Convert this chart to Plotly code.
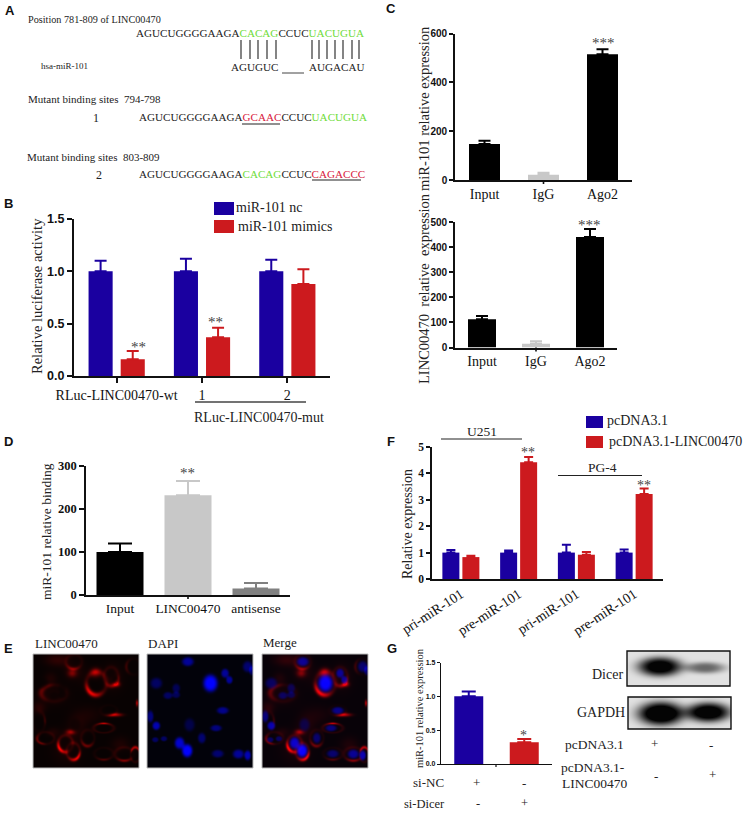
import numpy as np
import plotly.graph_objects as go

W, H = 747, 813
SERIF = "Liberation Serif"
SANS = "Liberation Sans"
BLUE = "#1a00a0"
RED = "#cc1a1e"
GREY = "#c8c8c8"
GREEN = "#6fdc3a"
PINK = "#d8203c"

# Panel B
b_groups = ["RLuc-LINC00470-wt", "1", "2"]
b_nc = [1.0, 1.0, 1.0]
b_nc_err = [0.10, 0.12, 0.11]
b_mimics = [0.16, 0.37, 0.88]
b_mimics_err = [0.08, 0.09, 0.14]
# Panel C
c_cats = ["Input", "IgG", "Ago2"]
c1_vals = [147, 22, 515]
c1_err = [14, 8, 20]
c2_vals = [113, 15, 440]
c2_err = [12, 10, 32]
# Panel D
d_cats = ["Input", "LINC00470", "antisense"]
d_vals = [100, 232, 15]
d_err = [20, 33, 13]
# Panel F
f_cats = ["pri-miR-101", "pre-miR-101", "pri-miR-101 ", "pre-miR-101 "]
f_pc = [1.0, 1.0, 1.0, 1.0]
f_pc_err = [0.10, 0.08, 0.30, 0.12]
f_linc = [0.83, 4.42, 0.92, 3.22]
f_linc_err = [0.05, 0.20, 0.10, 0.21]
# Panel G
g_cats = ["si-NC", "si-Dicer"]
g_vals = [1.0, 0.32]
g_err = [0.07, 0.05]

# Illustrated micrograph content (centre x, centre y, radius x, radius y, strength),
# measured on a 319 x 343 view of each micrograph.
NUCLEI = [(123,23,18,14,.6),(303,38,15,17,.45),(235,58,12,14,.6),(248,78,10,12,.6),(191,88,22,26,1.),
          (28,88,18,17,.4),(88,103,12,14,.35),(63,125,14,11,.4),(88,123,12,10,.35),(228,170,18,11,.55),
          (10,188,10,18,.5),(28,216,12,13,.7),(128,213,16,20,.3),(208,223,17,10,.5),(165,253,12,16,.45),
          (25,258,10,8,.4),(51,255,10,8,.4),(98,268,15,18,.8),(121,291,16,20,1.),(213,300,18,12,.45),
          (275,301,17,14,.6),(303,305,10,15,.7),(315,50,8,14,.4)]
# ring: centre, radii, strength, angle (degrees, image coords) of its brightest side
RINGS = [(123,23,24,22,.4,100),(191,88,30,35,.95,120),(235,68,22,28,.55,60),(303,38,22,24,.25,180),
         (63,118,38,25,.4,200),(228,170,25,16,.2,60),(18,203,18,30,.25,0),(38,253,25,18,.5,150),
         (98,270,22,25,.9,140),(121,293,20,25,.9,60),(165,253,20,24,.45,100),(213,223,30,14,.75,270),
         (213,300,28,18,.35,90),(275,301,28,20,.55,90),(308,303,14,22,.7,270)]
PATCHES = [(118,58,14,12,.45),(188,58,15,15,.65),(253,91,10,8,.6),(248,183,22,6,.7),(113,235,14,8,.6),
           (313,148,4,10,.7),(73,18,40,20,.22),(173,183,40,30,.1),(133,213,30,40,.13),(18,163,20,20,.18),
           (53,73,20,20,.13),(263,273,30,25,.14),(60,235,20,14,.12),(150,70,20,40,.05),(120,45,30,35,.12),
           (240,70,35,45,.12),(60,125,50,35,.1),(100,285,45,50,.12)]


def ellipse_dist(xx, yy, cx, cy, rx, ry):
    return np.sqrt(((xx - cx) / rx) ** 2 + ((yy - cy) / ry) ** 2)


def micrographs(w, h):
    yy, xx = np.mgrid[0:h, 0:w]
    xx = (xx + .5) * 319 / w
    yy = (yy + .5) * 343 / h
    red = np.zeros((h, w))
    blue = np.zeros((h, w))
    mask = np.zeros((h, w))
    for c in PATCHES:
        red += c[4] * np.exp(-ellipse_dist(xx, yy, *c[:4]) ** 2)
    for c in RINGS:
        d = ellipse_dist(xx, yy, *c[:4])
        ang = np.arctan2(yy - c[1], xx - c[0]) - np.radians(c[5])
        lobes = .22 + .78 * np.cos(ang) ** 2 * (np.cos(ang) > 0)
        red += c[4] * lobes * np.exp(-((d - 1) / .25) ** 2)
    for c in NUCLEI:
        d = ellipse_dist(xx, yy, *c[:4])
        blue += c[4] * np.exp(-d ** 4)
        mask += np.exp(-d ** 4)
    return np.clip(red, 0, 1) ** 1.25, np.clip(blue, 0, 1) ** 1.15, np.clip(mask, 0, 1)


def rgb(r, g, b):
    return np.clip(np.dstack([r, g, b]), 0, 255).astype(np.uint8).tolist()


def blot(w, h, bands):
    yy, xx = np.mgrid[0:h, 0:w]
    fx = (xx + .5) / w
    fy = (yy + .5) / h
    dark = np.zeros((h, w))
    for cx, cy, rx, ry, a in bands:
        dark += a * np.exp(-(((fx - cx) / rx) ** 2 + ((fy - cy) / ry) ** 2) ** 1.5)
    dark = np.clip(dark, 0, 1)
    v = 222 * (1 - dark) + 4
    return rgb(v, v, v)


fig = go.Figure()
layout = {}
shapes = []
annotations = []
axis_no = 0


def fx(x):
    return x / W


def fy(y):
    return 1 - y / H


def txt(x, y, s, size=13, anchor="left", font=SERIF, color="#222", bold=False, angle=0):
    if bold:
        s = f"<b>{s}</b>"
    annotations.append(dict(x=fx(x), y=fy(y), xref="paper", yref="paper", text=s, showarrow=False,
                            xanchor=anchor, yanchor="middle", textangle=angle, borderpad=0, borderwidth=0,
                            font=dict(family=font, size=size, color=color)))


def line(x0, y0, x1, y1, color="#222", width=1.3):
    shapes.append(dict(type="line", xref="paper", yref="paper", x0=fx(x0), x1=fx(x1), y0=fy(y0), y1=fy(y1),
                       line=dict(color=color, width=width)))


def box(x0, y0, x1, y1, color):
    shapes.append(dict(type="rect", xref="paper", yref="paper", x0=fx(x0), x1=fx(x1), y0=fy(y0), y1=fy(y1),
                       line=dict(width=0), fillcolor=color))


def axes(x0, x1, ytop, ybot, cats, yrange, ytickvals, yfmt, yfont, xfont, lw=2, ticks=True, angle=0, ticklen=5):
    global axis_no
    axis_no += 1
    n = axis_no
    s = "" if n == 1 else str(n)
    layout[f"xaxis{s}"] = dict(domain=[fx(x0), fx(x1)], anchor=f"y{s}", type="category", categoryorder="array",
                               categoryarray=cats, tickvals=cats, ticktext=[c.strip() for c in cats],
                               range=[-.5, len(cats) - .5], showgrid=False, zeroline=False, showline=True,
                               linecolor="#111", linewidth=lw, ticks="outside" if ticks else "",
                               ticklen=ticklen, tickwidth=lw, tickcolor="#111", tickangle=angle, tickfont=xfont,
                               automargin=False)
    layout[f"yaxis{s}"] = dict(domain=[fy(ybot), fy(ytop)], anchor=f"x{s}", range=yrange, tickvals=ytickvals,
                               tickformat=yfmt, showgrid=False, zeroline=False, showline=True, linecolor="#111",
                               linewidth=lw, ticks="outside", ticklen=ticklen, tickwidth=lw, tickcolor="#111",
                               tickfont=yfont, automargin=False)
    return f"x{s}", f"y{s}"


def bars(ax, cats, vals, errs, color, width, offset=None, cap=6, thick=2, name=None):
    fig.add_trace(go.Bar(x=cats, y=vals, xaxis=ax[0], yaxis=ax[1], width=width, offset=offset, name=name,
                         showlegend=False, marker=dict(color=color, line=dict(width=0)),
                         error_y=dict(type="data", array=errs, arrayminus=[0] * len(errs), symmetric=False,
                                      color=color, thickness=thick, width=cap)))


def image(x0, x1, y0, y1, z, border="#bbb", lw=1):
    global axis_no
    axis_no += 1
    s = str(axis_no)
    w, h = int(x1 - x0), int(y1 - y0)
    layout[f"xaxis{s}"] = dict(domain=[fx(x0), fx(x1)], anchor=f"y{s}", range=[-.5, w - .5], visible=False, automargin=False)
    layout[f"yaxis{s}"] = dict(domain=[fy(y1), fy(y0)], anchor=f"x{s}", range=[h - .5, -.5], visible=False, automargin=False)
    fig.add_trace(go.Image(z=z, xaxis=f"x{s}", yaxis=f"y{s}", hoverinfo="skip"))
    shapes.append(dict(type="rect", xref="paper", yref="paper", x0=fx(x0), x1=fx(x1), y0=fy(y0), y1=fy(y1),
                       line=dict(color=border, width=lw)))


def f(family, size, bold=False):
    return dict(family=family, size=size, color="#111", weight=700 if bold else 400)


# ---------- Panel letters
for lab, x, y in [("A", 10, 10), ("B", 8, 204), ("C", 391, 9), ("D", 8, 442), ("E", 8, 648), ("F", 391, 441), ("G", 392, 648)]:
    txt(x, y, lab, 13, "center", SANS, "#111", True)

# ---------- Panel A
S = 11.1
txt(28, 19, "Position 781-809 of LINC00470", 10.2)
G = lambda t: f'<span style="color:{GREEN}">{t}</span>'
R = lambda t: f'<span style="color:{PINK}">{t}</span>'
txt(136, 33, "AGUCUGGGGAAGA" + G("CACAG") + "CCUC" + G("UACUGUA"), S)
for x in [241, 250, 258, 267, 276, 312, 319, 327, 335, 343, 352, 359]:
    line(x, 40, x, 59, "#333", 1.2)
txt(41, 66, "hsa-miR-101", 9)
txt(231, 67, "AGUGUC", S)
line(282, 73, 304, 73, "#444", 1)
txt(309, 67, "AUGACAU", S)
txt(28, 99, "Mutant binding sites&nbsp;&nbsp;794-798", 11)
txt(96, 118, "1", 12, "center")
txt(139, 117, "AGUCUGGGGAAGA" + R("GCAAC") + "CCUC" + G("UACUGUA"), S)
line(242, 124, 280, 124, "#222", 1.2)
txt(27, 157, "Mutant binding sites&nbsp;&nbsp;803-809", 11)
txt(99, 175, "2", 12, "center")
txt(139, 174, "AGUCUGGGGAAGA" + G("CACAG") + "CCUC" + R("CAGACCC"), S)
line(312, 180, 361, 180, "#222", 1.2)

# ---------- Panel B
ax = axes(74, 330, 219, 376, b_groups, [0, 1.5], [0, .5, 1, 1.5], ".1f", f(SANS, 12.5, True), f(SERIF, 14))
bars(ax, b_groups, b_nc, b_nc_err, BLUE, 24 / 85, -28 / 85, name="miR-101 nc")
bars(ax, b_groups, b_mimics, b_mimics_err, RED, 24 / 85, 4 / 85, name="miR-101 mimics")
box(214, 202, 234, 215, BLUE)
box(214, 220, 234, 233, RED)
txt(236, 207, "miR-101 nc", 14)
txt(238, 226, "miR-101 mimics", 14)
txt(37, 296, "Relative luciferase activity", 14.5, "center", angle=-90)
txt(138, 347, "**", 15, "center", color="#444")
txt(215, 322, "**", 15, "center", color="#444")
line(195, 402, 306, 402, "#444", 1.4)
txt(259, 417, "RLuc-LINC00470-mut", 14, "center")

# ---------- Panel C
for (x0, x1, y0, y1, vals, errs, top, tv, cap, bw) in [
    (455, 632, 33.5, 180, c1_vals, c1_err, 600, [0, 200, 400, 600], 6, 31 / 59),
    (455, 617, 222, 347.5, c2_vals, c2_err, 500, [0, 100, 200, 300, 400, 500], 6, 28 / 54),
]:
    ax = axes(x0, x1, y0, y1, c_cats, [0, top], tv, "d", f(SANS, 10, True), f(SERIF, 14), lw=1.6, ticks=False, ticklen=4)
    for c, v, e, col in zip(c_cats, vals, errs, ["#000", GREY, "#000"]):
        bars(ax, [c], [v], [e], col, bw, cap=cap)
    line((x0 + x1) / 2, y1, (x0 + x1) / 2, y1 + 4, "#111", 1.6)
txt(424, 108, "miR-101 relative expression", 14.5, "center", angle=-90)
txt(424, 288, "LINC00470&nbsp;&nbsp;relative&nbsp;&nbsp;expression", 14.5, "center", angle=-90)
txt(603, 43, "***", 15, "center", color="#444")
txt(589, 225, "***", 15, "center", color="#444")

# ---------- Panel D
ax = axes(86, 290, 466, 595, d_cats, [0, 300], [0, 100, 200, 300], "d", f(SERIF, 12.5, True), f(SERIF, 13.5), lw=1.6, ticks=False)
for c, v, e, col in zip(d_cats, d_vals, d_err, ["#000", GREY, "#808080"]):
    bars(ax, [c], [v], [e], col, 47 / 68, cap=12)
line(188, 595, 188, 599, "#111", 1.6)
txt(46, 532, "miR-101 relative binding", 13.5, "center", angle=-90)
txt(187, 473, "**", 15, "center", color="#444")

# ---------- Panel E
w, h = 106, 114
red_c, blue_c, mask_c = micrographs(w, h)
zero = np.zeros((h, w))
image(33, 139, 654, 768, rgb(red_c * (1 - .55 * mask_c) * 245 + 8, zero + 2, zero + 2))
image(147, 253, 654, 768, rgb(zero + 2, zero + 2, blue_c * 255 + 10))
image(262, 368, 654, 768, rgb(red_c * (1 - .7 * mask_c) * 255 + 8, zero + 2, blue_c * 255 + 8))
txt(35, 643, "LINC00470", 13)
txt(148, 643, "DAPI", 13)
txt(263, 642, "Merge", 13)

# ---------- Panel F
ax = axes(432, 663, 447, 579, f_cats, [0, 5], [0, 1, 2, 3, 4, 5], "d", f(SERIF, 11.5, True), f(SERIF, 14), lw=1.5, ticks=False, angle=-33, ticklen=4)
bars(ax, f_cats, f_pc, f_pc_err, BLUE, 17 / 57.75, -18.5 / 57.75, cap=4.5, name="pcDNA3.1")
bars(ax, f_cats, f_linc, f_linc_err, RED, 17 / 57.75, 1.5 / 57.75, cap=4.5, name="pcDNA3.1-LINC00470")
box(586, 416, 603, 428, BLUE)
box(586, 436, 603, 448, RED)
txt(607, 420, "pcDNA3.1", 14)
txt(609, 442, "pcDNA3.1-LINC00470", 14)
txt(482, 431, "U251", 13.5, "center")
line(441, 439, 522, 439, "#222", 1.2)
txt(602, 467, "PG-4", 13.5, "center")
line(558, 475.5, 642, 475.5, "#222", 1.2)
txt(528, 452, "**", 14, "center", color="#444")
txt(644, 485, "**", 14, "center", color="#444")
txt(407, 524, "Relative expression", 14, "center", angle=-90)

# ---------- Panel G
ax = axes(441, 552, 662.5, 764, g_cats, [0, 1.5], [0, .5, 1, 1.5], ".1f", f(SANS, 7, True), dict(size=1, color="rgba(0,0,0,0)"), lw=1.4, ticks=False, ticklen=3)
for c, v, e, col in zip(g_cats, g_vals, g_err, [BLUE, RED]):
    bars(ax, [c], [v], [e], col, 29 / 55.5, cap=7)
line(496, 764, 496, 767, "#111", 1.2)
txt(419, 708, "miR-101 relative expression", 10.5, "center", angle=-90)
txt(523, 735, "*", 14, "center", color="#444")
txt(444, 782, "si-NC", 13, "right")
txt(477, 782, "+", 13, "center")
txt(524, 783, "-", 13, "center")
txt(445, 804, "si-Dicer", 12.5, "right")
txt(478, 804, "-", 12.5, "center")
txt(524, 803, "+", 12.5, "center")

image(627, 730, 651, 686, blot(103, 35, [(.32, .45, .21, .27, 1.15), (.76, .48, .19, .16, .55)]), "#111", 1.4)
image(628, 731, 697, 729, blot(103, 32, [(.32, .52, .22, .36, 1.3), (.78, .48, .21, .3, 1.2)]), "#111", 1.4)
txt(623, 674, "Dicer", 14, "right")
txt(625, 712, "GAPDH", 14, "right")
txt(624, 744, "pcDNA3.1", 13.5, "right")
txt(654, 743, "+", 13, "center")
txt(711, 745, "-", 13, "center")
txt(561, 767, "pcDNA3.1-", 13.5)
txt(562, 783, "LINC00470", 13.5)
txt(656, 776, "-", 13, "center")
txt(712, 774, "+", 13, "center")

fig.update_layout(width=W, height=H, autosize=False, margin=dict(l=0, r=0, t=0, b=0, pad=0), paper_bgcolor="white",
                  plot_bgcolor="rgba(0,0,0,0)", barmode="overlay", showlegend=False, shapes=shapes,
                  annotations=annotations, **layout)
fig.write_html("out.html", config=dict(displayModeBar=False),
               post_script="document.body.style.margin='0';document.body.style.overflow='hidden';")
